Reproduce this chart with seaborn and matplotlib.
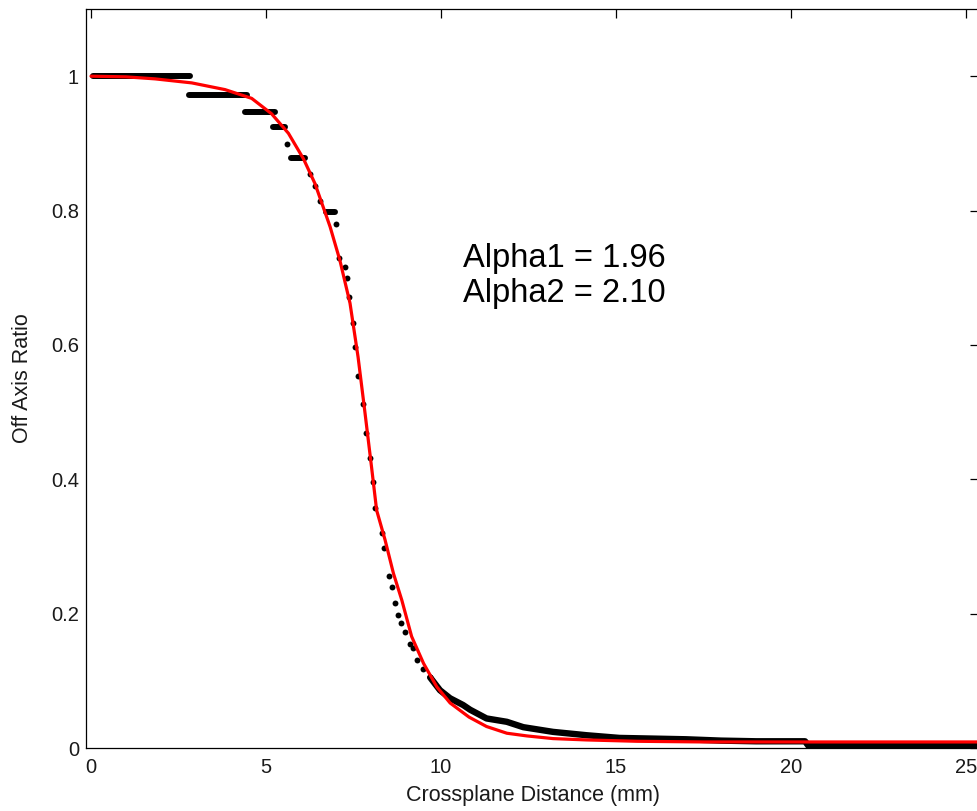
import matplotlib
matplotlib.use("Agg")
import matplotlib.pyplot as plt
import seaborn as sns
import pandas as pd
import numpy as np

# ---- data ----
# quantised plateaus of the measured profile (start x, end x, ratio)
run_x0 = [0.06, 2.80, 4.40, 5.20, 5.72, 6.70]
run_x1 = [2.83, 4.46, 5.26, 5.55, 6.10, 6.97]
run_y  = [1.000, 0.972, 0.947, 0.925, 0.878, 0.798]

# individual measured points in the penumbra
dot_x = [5.60, 6.26, 6.40, 6.54, 7.00, 7.09, 7.25, 7.30, 7.38, 7.48, 7.53, 7.63,
         7.76, 7.86, 7.96, 8.05, 8.11, 8.30, 8.37, 8.50, 8.59, 8.69, 8.78, 8.86,
         8.97, 9.10, 9.19, 9.32, 9.48, 9.69]
dot_y = [0.899, 0.855, 0.836, 0.814, 0.780, 0.730, 0.716, 0.700, 0.672, 0.632, 0.597, 0.553,
         0.512, 0.469, 0.432, 0.396, 0.357, 0.320, 0.298, 0.256, 0.240, 0.216, 0.198, 0.186,
         0.172, 0.155, 0.149, 0.131, 0.117, 0.105]

# dense measured tail (points so close they form a band)
tail_x = [9.69, 9.97, 10.26, 10.63, 10.83, 11.30, 11.88, 12.35, 13.20, 14.16, 15.10,
          16.06, 17.00, 18.00, 19.00, 20.40, 20.50, 25.60]
tail_y = [0.105, 0.086, 0.074, 0.064, 0.057, 0.044, 0.039, 0.031, 0.024, 0.019, 0.015,
          0.014, 0.013, 0.011, 0.010, 0.010, 0.003, 0.003]

# fitted model curve
fit_x = [0.00, 1.00, 1.83, 2.88, 3.83, 4.59, 5.16, 5.64, 6.07, 6.40, 6.83, 7.11, 7.40,
         7.63, 7.83, 8.02, 8.16, 8.40, 8.64, 8.88, 9.16, 9.50, 9.88, 10.26, 10.80,
         11.30, 11.88, 12.45, 13.20, 14.16, 15.60, 17.50, 20.00, 25.60]
fit_y = [1.000, 0.999, 0.996, 0.990, 0.980, 0.967, 0.944, 0.915, 0.877, 0.840, 0.776, 0.726, 0.662,
         0.582, 0.498, 0.416, 0.354, 0.310, 0.260, 0.220, 0.166, 0.126, 0.091, 0.067, 0.046,
         0.032, 0.022, 0.018, 0.014, 0.012, 0.010, 0.009, 0.009, 0.009]

x_ticks = [0, 5, 10, 15, 20, 25]
y_ticks = [0, 0.2, 0.4, 0.6, 0.8, 1.0]
y_tick_labels = ["0", "0.2", "0.4", "0.6", "0.8", "1"]
annot_lines = ["Alpha1 = 1.96", "Alpha2 = 2.10"]

# ---- style ----
sns.set_theme(style="white")
plt.rcParams['font.family'] = ['Liberation Sans', 'DejaVu Sans']

W, H = 977, 811
fig = plt.figure(figsize=(W / 100, H / 100), dpi=100)
ax_left, ax_right, ax_top, ax_bottom = 86, 979, 9, 748
ax = fig.add_axes([ax_left / W, (H - ax_bottom) / H,
                   (ax_right - ax_left) / W, (ax_bottom - ax_top) / H])

# measured data
ax.hlines(run_y, run_x0, run_x1, colors="black", linewidth=4.3,
          capstyle="round", zorder=2)
sns.scatterplot(x=dot_x, y=dot_y, ax=ax, color="black", s=18,
                linewidth=0, zorder=2)
sns.lineplot(x=tail_x, y=tail_y, ax=ax, color="black", linewidth=4.6,
             sort=False, estimator=None, zorder=2)
line = ax.get_lines()[-1]
line.set_solid_capstyle("round")

# fitted curve
sns.lineplot(x=fit_x, y=fit_y, ax=ax, color="#ff0000", linewidth=2.3,
             sort=False, estimator=None, zorder=3)

ax.set_xlim(-0.143, 25.37)
ax.set_ylim(0, 1.1)
ax.set_xticks(x_ticks)
ax.set_xticklabels([str(t) for t in x_ticks])
ax.set_yticks(y_ticks)
ax.set_yticklabels(y_tick_labels)

for s in ax.spines.values():
    s.set_color("black")
    s.set_linewidth(0.9)
ax.tick_params(direction="in", length=6.5, width=0.9, color="black",
               top=True, right=True, labelsize=14.5, labelcolor="#1a1a1a")
ax.tick_params(axis="x", pad=7)
ax.tick_params(axis="y", pad=5)

ax.set_xlabel("Crossplane Distance (mm)", fontsize=15.5, color="#1a1a1a", labelpad=6)
ax.set_ylabel("Off Axis Ratio", fontsize=15.5, color="#1a1a1a", labelpad=13)

annot_font = ['Liberation Sans', 'DejaVu Sans']
ax.text(10.63, 0.716, annot_lines[0], fontsize=23.5, family=annot_font,
        color="black", va="baseline", ha="left")
ax.text(10.63, 0.664, annot_lines[1], fontsize=23.5, family=annot_font,
        color="black", va="baseline", ha="left")

ax.grid(False)
fig.savefig("out.png", dpi=100, facecolor="white")
